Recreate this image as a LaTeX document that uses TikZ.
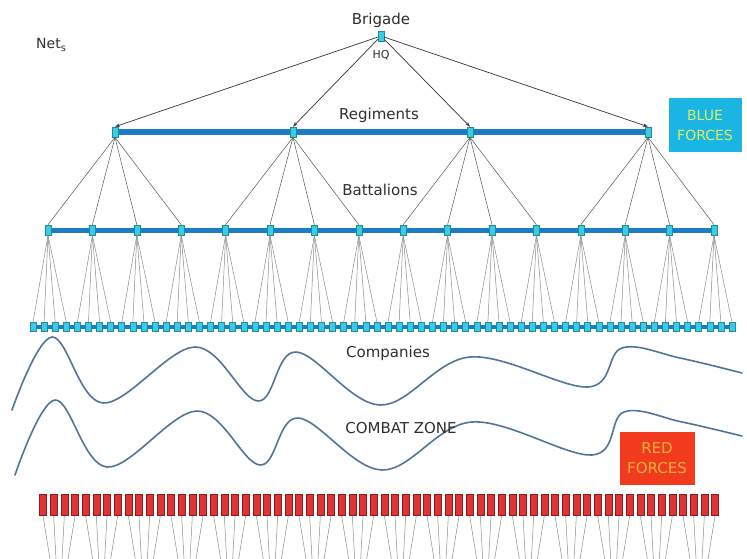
\documentclass[tikz,border=0pt]{standalone}
\usepackage{fontspec}
\setmainfont{DejaVu Sans}
\usetikzlibrary{arrows.meta,backgrounds}

\definecolor{nodefill}{HTML}{3CCBE0}
\definecolor{nodeedge}{HTML}{1B8AA3}
\definecolor{barblue}{HTML}{1C7CC6}
\definecolor{cmdline}{HTML}{333333}
\definecolor{linkgray}{HTML}{8A8A8A}
\definecolor{regline}{HTML}{555555}
\definecolor{wavecol}{HTML}{52739A}
\definecolor{labcol}{HTML}{2E2E2E}
\definecolor{bluebox}{HTML}{1BB5E4}
\definecolor{bluetext}{HTML}{D9EE62}
\definecolor{redbox}{HTML}{F23B1E}
\definecolor{redtext}{HTML}{F7B13C}
\definecolor{redfill}{HTML}{DE3434}
\definecolor{reddark}{HTML}{8C1C1C}

\begin{document}
\begin{tikzpicture}[x=1pt,y=-1pt,
  unit/.style={draw=nodeedge, fill=nodefill, line width=0.6pt,
    minimum width=6pt, minimum height=10pt, inner sep=0pt},
  company/.style={unit, minimum width=6pt, minimum height=9pt},
  redunit/.style={draw=reddark, fill=redfill, line width=0.6pt,
    minimum width=7pt, minimum height=21pt, inner sep=0pt},
  cmd/.style={draw=cmdline, line width=0.7pt, -{Stealth[length=5pt,width=3.5pt]}},
  regbranch/.style={draw=regline, line width=0.5pt},
  link/.style={draw=linkgray, line width=0.5pt},
  bar/.style={draw=barblue, line cap=butt},
  wave/.style={draw=wavecol, line width=1.6pt, line cap=round},
  lab/.style={font=\fontsize{15}{18}\selectfont, text=labcol, inner sep=0pt},
  forcebox/.style={minimum width=73pt, minimum height=54pt, inner sep=0pt,
    align=center, font=\fontsize{14}{20}\selectfont}
]
\useasboundingbox (0,0) rectangle (747,559);

% ---- headquarters and command levels ----
\node[unit] (HQ) at (381,36) {};
\node[lab] (brig) at (381,20) {Brigade};
\node[lab, font=\fontsize{11}{13}\selectfont] (hqlab) at (381,55) {HQ};
\node[lab, font=\fontsize{14}{17}\selectfont, anchor=west] (net) at (36,45) {Net\textsubscript{s}};

\foreach \r/\x in {1/115,2/293,3/470,4/648}
  \node[unit] (R\r) at (\x,132) {};
\node[lab] (reglab) at (379,115) {Regiments};

\foreach \b in {0,...,15}{
  \pgfmathsetmacro{\bx}{48+44.4*\b}
  \node[unit] (B\b) at (\bx,230) {};
}
\node[lab] (batlab) at (380,190) {Battalions};

\foreach \c in {0,...,63}{
  \pgfmathsetmacro{\cx}{33+11.095*\c}
  \node[company] (C\c) at (\cx,327) {};
}

% ---- bus bars behind each row ----
\begin{scope}[on background layer]
  \draw[bar, line width=5.5pt] (R1.center) -- (R4.center);
  \draw[bar, line width=5pt] (B0.center) -- (B15.center);
  \draw[bar, line width=4pt] (C0.center) -- (C63.center);
\end{scope}

% ---- command links ----
\foreach \r in {1,...,4}
  \draw[cmd] (HQ) -- (R\r.north);

\foreach \r in {1,...,4}{
  \foreach \k in {0,...,3}{
    \pgfmathtruncatemacro{\b}{4*(\r-1)+\k}
    \draw[regbranch] (R\r.south) -- (B\b.north);
  }
}

\foreach \b in {0,...,15}{
  \foreach \k in {0,...,3}{
    \pgfmathtruncatemacro{\c}{4*\b+\k}
    \draw[link] (B\b.south) -- (C\c.north);
  }
}

% ---- front lines ----
\draw[wave] plot[smooth, tension=0.6] coordinates {
  (12,410) (52,337) (103,403) (195,347) (258,401) (296,352)
  (380,405) (470,357) (588,387) (622,348) (680,358) (742,373)};
\draw[wave] plot[smooth, tension=0.6] coordinates {
  (15,475) (55,400) (107,467) (197,411) (260,465) (298,418)
  (382,470) (472,422) (592,455) (624,412) (682,422) (742,436)};
\node[lab] (coylab) at (388,353) {Companies};
\node[lab] (czlab) at (401,428) {COMBAT ZONE};

% ---- force labels ----
\node[forcebox, fill=bluebox, text=bluetext] (blue) at (705,125) {BLUE\\FORCES};
\node[forcebox, fill=redbox, text=redtext, minimum width=75pt, minimum height=53pt,
  font=\fontsize{15}{20}\selectfont] (red) at (657,458) {RED\\FORCES};

% ---- opposing units ----
\foreach \d in {0,...,63}{
  \pgfmathsetmacro{\dx}{43+10.667*\d}
  \node[redunit] (D\d) at (\dx,505) {};
}
\begin{scope}
  \clip (0,0) rectangle (747,559);
  \foreach \g in {0,...,15}{
    \pgfmathsetmacro{\gx}{43+10.667*(4*\g+1.5)}
    \coordinate (G\g) at (\gx,615);
    \foreach \k in {0,...,3}{
      \pgfmathtruncatemacro{\d}{4*\g+\k}
      \draw[link] (D\d.south) -- (G\g);
    }
  }
\end{scope}
\end{tikzpicture}
\end{document}
